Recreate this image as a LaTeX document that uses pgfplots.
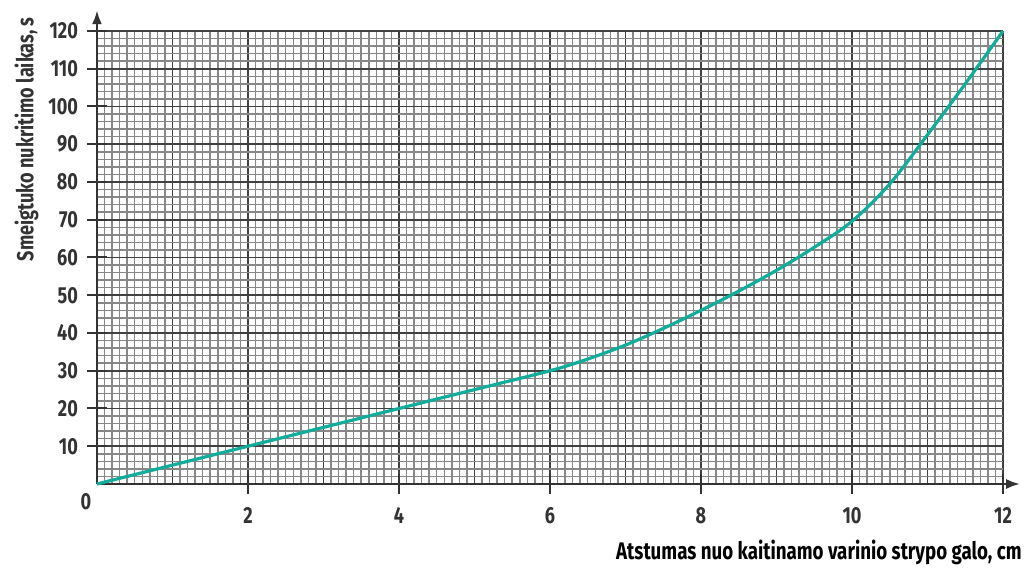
\documentclass[border=0pt]{standalone}
\usepackage{fontspec}
\setmainfont{Fira Sans}[FakeStretch=0.78,UprightFont=* Bold,BoldFont=* Bold]
\usepackage{pgfplots}
\pgfplotsset{compat=1.18}
\usetikzlibrary{arrows.meta}
\definecolor{txt}{HTML}{333333}
\definecolor{curve}{HTML}{12AD9A}
\begin{document}
\begin{tikzpicture}
\begin{axis}[
  name=ax,
  scale only axis,
  width=453pt, height=226.5pt,
  xmin=0, xmax=12, ymin=0, ymax=120,
  axis line style={draw=none},
  clip=false,
  /pgf/number format/assume math mode=true,
  font=\fontsize{11.6}{13}\selectfont\color{txt},
  xtick={0,1,...,12},
  ytick={0,10,...,120},
  xticklabels={}, yticklabels={},
  minor x tick num=9,
  minor y tick num=4,
  grid=both,
  major tick length=0pt,
  minor tick length=0pt,
  minor grid style={line width=0.75pt, draw=black!47},
  major grid style={line width=0.85pt, draw=black!75},
  extra x ticks={2,4,6,8,10,12},
  extra x tick labels={2,4,6,8,10,12},
  extra y ticks={10,20,...,120},
  extra y tick labels={10,20,30,40,50,60,70,80,90,100,110,120},
  extra tick style={grid=none, major tick length=10pt, tick align=center, tick style={line width=1pt, draw=txt}},
  xtick pos=bottom, ytick pos=left,
  xticklabel style={yshift=-3pt},
  yticklabel style={xshift=-1pt},
]
\draw[txt, line width=1.3pt, -{Latex[length=7pt,width=5pt]}] (rel axis cs:0,0) -- (rel axis cs:0,1.046);
\draw[txt, line width=1.3pt, -{Latex[length=7pt,width=5pt]}] (rel axis cs:0,0) -- (rel axis cs:1.019,0);
\addplot[curve, line width=1.6pt, smooth, tension=0.55] coordinates {
(0,0) (1,5) (2,10) (3,15) (4,20) (5,25) (6,30) (6.5,33.1) (7,36.8) (7.5,41.2) (8,46) (8.5,51.1) (9,56.6) (9.5,62.7) (10,69.6) (10.5,79.5) (11,92.5) (11.5,106) (12,120)
};
\node[anchor=north east, inner sep=0pt] at (rel axis cs:-0.006,-0.02) {0};
\node[rotate=90, anchor=south east, inner sep=0pt] at (rel axis cs:-0.064,1.031) {Smeigtuko nukritimo laikas, s};
\node[anchor=east, inner sep=0pt, font=\fontsize{12}{13}\selectfont] at (rel axis cs:1.021,-0.152) {Atstumas nuo kaitinamo varinio strypo galo, cm};
\coordinate (bl) at (rel axis cs:-0.10706,-0.18322);
\coordinate (tr) at (rel axis cs:1.02649,1.06843);
\end{axis}
\pgfresetboundingbox
\path (bl) rectangle (tr);
\end{tikzpicture}
\end{document}
